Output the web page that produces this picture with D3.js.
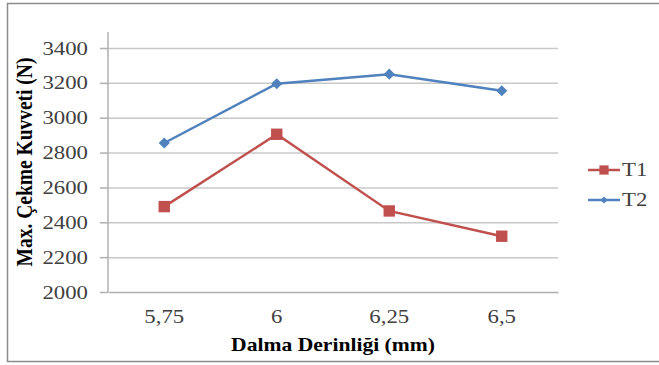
<!DOCTYPE html>
<html>
<head>
<meta charset="utf-8">
<script src="https://cdn.jsdelivr.net/npm/d3@7"></script>
<style>
  body { margin: 0; background: #fff; }
  svg { display: block; }
  svg text { font-family: 'Liberation Serif', 'DejaVu Serif', serif; }
</style>
</head>
<body>
<div id="chart"></div>
<script>
// categories on the x axis (Dalma Derinliği, mm)
const categories = ["5,75", "6", "6,25", "6,5"];
// max pull force (N)
const t1Values = [2490, 2905, 2465, 2320];
const t2Values = [2855, 3195, 3250, 3155];
const yTicks = [2000, 2200, 2400, 2600, 2800, 3000, 3200, 3400];
const seriesNames = ["T1", "T2"];

const width = 659;
const height = 365;
const margin = { top: 48, right: 101, bottom: 73, left: 108 };
// the reference text is stretched sideways
const stretch = 1.2;

const svg = d3.select('#chart')
  .append('svg')
  .attr('width', width)
  .attr('height', height);

// outer chart frame
svg.append('rect')
  .attr('x', 7.5).attr('y', 3.5)
  .attr('width', 660).attr('height', 358)
  .attr('fill', '#fff')
  .attr('stroke', '#8c8c8c')
  .attr('stroke-width', 1.5);

const x = d3.scaleBand()
  .domain(categories)
  .range([margin.left, width - margin.right]);

const y = d3.scaleLinear()
  .domain([2000, 3400])
  .range([height - margin.bottom, margin.top]);

// gridlines
svg.append('g')
  .selectAll('line')
  .data(yTicks.slice(1))
  .enter()
  .append('line')
  .attr('x1', margin.left)
  .attr('x2', width - margin.right)
  .attr('y1', (d) => y(d) + 0.5)
  .attr('y2', (d) => y(d) + 0.5)
  .attr('stroke', '#c8c8c8')
  .attr('stroke-width', 1.5);

// y axis
const yAxis = svg.append('g')
  .attr('transform', `translate(${margin.left},0)`)
  .call(d3.axisLeft(y).tickValues(yTicks).tickSize(8).tickPadding(0).tickFormat(d3.format('d')));
yAxis.select('.domain').remove();
yAxis.selectAll('line').attr('stroke', '#b0b0b0').attr('stroke-width', 1.5);
yAxis.selectAll('text')
  .attr('x', null)
  .attr('transform', `translate(-20,0) scale(${stretch},1)`)
  .attr('font-size', '19px')
  .attr('fill', '#404040');
svg.append('line')
  .attr('x1', margin.left).attr('x2', margin.left)
  .attr('y1', 32).attr('y2', y(2000))
  .attr('stroke', '#b0b0b0').attr('stroke-width', 1.5);

// x axis
const xAxis = svg.append('g')
  .attr('transform', `translate(0,${y(2000)})`)
  .call(d3.axisBottom(x).tickSize(0).tickPadding(18));
xAxis.select('.domain').attr('stroke', '#b0b0b0').attr('stroke-width', 1.5);
xAxis.selectAll('text')
  .attr('transform', `scale(${stretch},1)`)
  .attr('font-size', '19px')
  .attr('fill', '#404040');

// axis titles
svg.append('text')
  .attr('transform', `translate(${(margin.left + width - margin.right) / 2},351) scale(${stretch},1)`)
  .attr('text-anchor', 'middle')
  .attr('font-weight', 'bold')
  .attr('font-size', '18px')
  .attr('fill', '#000')
  .text('Dalma Derinliği (mm)');

svg.append('text')
  .attr('transform', `translate(32,${(margin.top + height - margin.bottom) / 2 - 8}) scale(${stretch},1) rotate(-90)`)
  .attr('text-anchor', 'middle')
  .attr('font-weight', 'bold')
  .attr('font-size', '19.5px')
  .attr('fill', '#000')
  .text('Max. Çekme Kuvveti (N)');

const colors = ['#c0504d', '#4f81bd'];
const seriesData = [t1Values, t2Values];
const cx = (i) => x(categories[i]) + x.bandwidth() / 2;

const line = d3.line()
  .x((d, i) => cx(i))
  .y((d) => y(d));

// square for T1, square turned 45 degrees (diamond) for T2
const markerSize = [130, 62];
const markerTurn = [0, 45];

seriesData.forEach((vals, s) => {
  svg.append('path')
    .datum(vals)
    .attr('d', line)
    .attr('fill', 'none')
    .attr('stroke', colors[s])
    .attr('stroke-width', 2.5);
  svg.append('g')
    .selectAll('path')
    .data(vals)
    .enter()
    .append('path')
    .attr('d', d3.symbol().type(d3.symbolSquare).size(markerSize[s]))
    .attr('transform', (d, i) => `translate(${cx(i)},${y(d)}) rotate(${markerTurn[s]})`)
    .attr('fill', colors[s]);
});

// legend
const legend = svg.append('g')
  .selectAll('g')
  .data(seriesNames)
  .enter()
  .append('g')
  .attr('transform', (d, i) => `translate(588,${170 + i * 30})`);
legend.append('line')
  .attr('x1', 0).attr('x2', 32)
  .attr('stroke', (d, i) => colors[i])
  .attr('stroke-width', 2.5);
legend.append('path')
  .attr('d', (d, i) => d3.symbol().type(d3.symbolSquare).size(i === 0 ? 85 : 26)())
  .attr('transform', (d, i) => `translate(16,0) rotate(${markerTurn[i]})`)
  .attr('fill', (d, i) => colors[i]);
legend.append('text')
  .attr('transform', `translate(34,6) scale(${stretch},1)`)
  .attr('font-size', '19px')
  .attr('fill', '#404040')
  .text((d) => d);
</script>
</body>
</html>
